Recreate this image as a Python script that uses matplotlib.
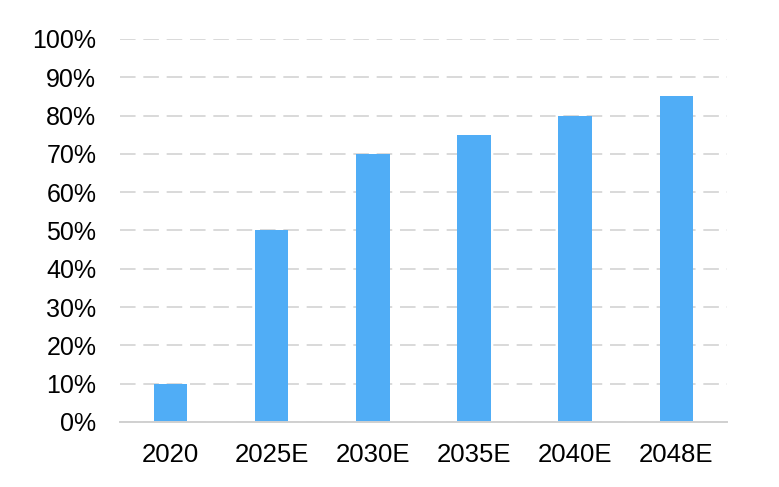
import matplotlib
matplotlib.use("Agg")
import matplotlib.pyplot as plt
from matplotlib.ticker import FuncFormatter

# Data
years = ['2020', '2025E', '2030E', '2035E', '2040E', '2048E']
share = [10, 50, 70, 75, 80, 85]
yticks = [0, 10, 20, 30, 40, 50, 60, 70, 80, 90, 100]

plt.rcParams['font.family'] = ['Liberation Sans', 'DejaVu Sans']

fig = plt.figure(figsize=(7.79, 4.87), dpi=100)
ax = fig.add_axes([0.154, 0.1335, 0.779, 0.7865])

x = range(len(years))
ax.bar(x, share, width=0.33, color='#50adf6', zorder=3)

ax.set_xlim(-0.5, len(years) - 0.5)
ax.set_ylim(0, 100)
ax.set_yticks(yticks)
ax.yaxis.set_major_formatter(FuncFormatter(lambda v, p: '%d%%' % v))
ax.set_xticks(list(x))
ax.set_xticklabels(years)

ax.grid(axis='y', color='#d9d9d9', linestyle=(0, (8, 4)), linewidth=1.4, zorder=0)
for s in ['top', 'right', 'left']:
    ax.spines[s].set_visible(False)
ax.spines['bottom'].set_color('#d0d0d0')
ax.spines['bottom'].set_linewidth(1.4)
ax.spines['bottom'].set_zorder(4)

ax.tick_params(axis='both', length=0, colors='#000000')
ax.tick_params(axis='y', pad=17, labelsize=18)
ax.tick_params(axis='x', pad=15, labelsize=18.5)

fig.savefig('out.png', dpi=100)
